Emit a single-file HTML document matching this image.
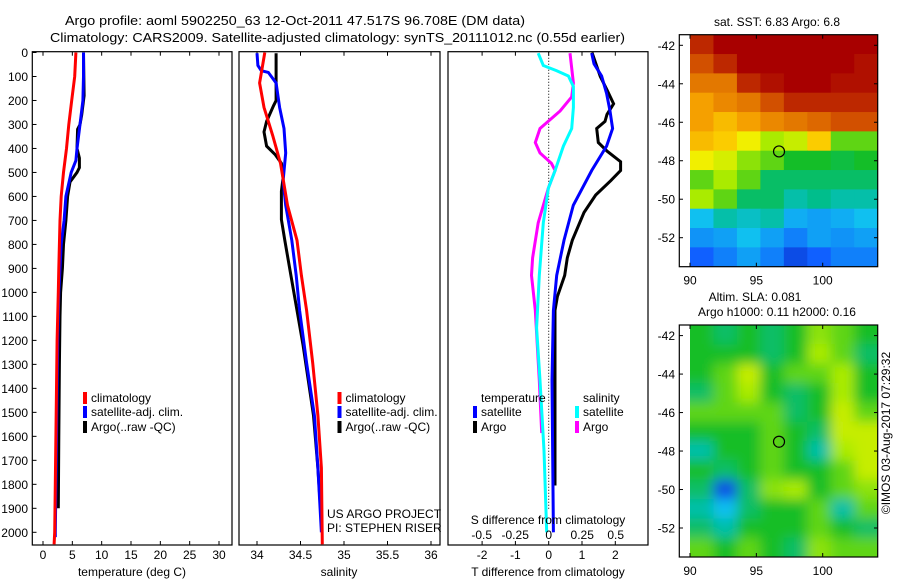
<!DOCTYPE html>
<html><head><meta charset="utf-8"><style>
html,body{margin:0;padding:0;background:#fff}
svg{display:block;font-family:"Liberation Sans",sans-serif}
</style></head><body>
<svg id="fig" width="900" height="580" viewBox="0 0 900 580" xmlns="http://www.w3.org/2000/svg">
<defs>
<clipPath id="clipTop"><rect x="690" y="34.7" width="187.7" height="232"/></clipPath>
<clipPath id="clipBot"><rect x="690" y="325" width="187.7" height="232"/></clipPath>
<filter id="blur" x="-10%" y="-10%" width="120%" height="120%"><feGaussianBlur stdDeviation="6"/></filter>
</defs>
<text x="65" y="25" font-size="13" textLength="460" lengthAdjust="spacingAndGlyphs">Argo profile: aoml 5902250_63 12-Oct-2011 47.517S 96.708E (DM data)</text>
<text x="50" y="42" font-size="13" textLength="575" lengthAdjust="spacingAndGlyphs">Climatology: CARS2009. Satellite-adjusted climatology: synTS_20111012.nc (0.55d earlier)</text>
<g id="plots"></g>
</svg>
<script>
// ---------- depth profile data ----------
const tClimDepth=[0,100,200,300,400,500,600,700,800,900,1000,1200,1400,1600,1800,2000,2050];
const tClimVal=[5.6,5.4,4.9,4.4,4.0,3.5,3.1,2.9,2.8,2.7,2.6,2.4,2.3,2.2,2.1,2.0,1.9];
const tSatDepth=[0,100,200,300,400,450,500,600,700,800,900,1000,1200,1400,1600,1800,2000,2020];
const tSatVal=[6.9,6.9,6.8,6.3,5.8,5.6,4.8,3.9,3.6,3.1,2.9,2.7,2.5,2.4,2.3,2.2,2.1,2.1];
const tArgoDepth=[0,180,260,300,320,400,440,480,500,540,600,700,800,900,1000,1100,1300,1600,1900];
const tArgoVal=[6.9,7.0,6.6,6.3,5.9,5.8,6.2,6.2,5.8,4.6,4.2,3.9,3.5,3.3,3.0,2.9,2.8,2.7,2.6];

const sClimDepth=[0,127,229,346,462,637,783,929,1075,1294,1513,1731,2050];
const sClimVal=[34.09,34.03,34.08,34.18,34.27,34.35,34.46,34.51,34.57,34.64,34.70,34.74,34.75];
const sSatDepth=[3,54,76,83,127,229,317,419,535,637,783,929,1075,1294,1513,1732,2000];
const sSatVal=[34.0,34.01,34.05,34.13,34.22,34.26,34.31,34.33,34.30,34.33,34.40,34.45,34.49,34.57,34.66,34.70,34.74];
const sArgoDepth=[3,200,222,287,331,390,426,462,521,579,696,783,929,1075,1221,1367,1513,1732,1900];
const sArgoVal=[34.22,34.22,34.19,34.11,34.08,34.11,34.21,34.28,34.30,34.28,34.28,34.32,34.39,34.46,34.53,34.59,34.65,34.70,34.73];

const dTSatDepth=[3,47,98,171,244,317,390,492,637,783,929,1075,1367,2000];
const dTSatVal=[1.29,1.36,1.59,1.74,1.84,1.92,1.74,1.29,0.74,0.46,0.24,0.14,0.10,0.14];
const dTArgoDepth=[0,100,156,214,258,287,317,375,411,455,492,535,594,667,783,856,929,1017,1075,1805];
const dTArgoVal=[1.3,1.55,1.75,1.95,1.75,1.69,1.44,1.49,1.75,2.16,2.16,1.86,1.41,1.06,0.71,0.56,0.48,0.26,0.19,0.19];
const dSSatDepth=[3,54,76,98,142,229,317,390,492,565,710,929,1148,1367,1659,2000];
const dSSatVal=[-0.078,-0.04,0.06,0.147,0.184,0.184,0.172,0.11,0.048,-0.002,-0.04,-0.07,-0.09,-0.065,-0.035,-0.015];
const dSArgoDepth=[3,127,185,244,317,375,419,462,492,565,710,856,929,1075,1367,1586];
const dSArgoVal=[0.159,0.184,0.172,0.085,-0.065,-0.10,-0.065,0.02,0.048,-0.002,-0.078,-0.12,-0.128,-0.10,-0.07,-0.052];

const depthTicks=[0,100,200,300,400,500,600,700,800,900,1000,1100,1200,1300,1400,1500,1600,1700,1800,1900,2000];
const tempTicks=[0,5,10,15,20,25,30];
const salTicks=[34,34.5,35,35.5,36];
const dTTicks=[-2,-1,0,1,2];
const dSTicks=[-0.5,-0.25,0,0.25,0.5];
const dSTickLabels=["-0.5","-0.25","0","0.25","0.5"];

// ---------- map data (coarse grids, rows north->south, cols west->east) ----------
const sstGrid=[
[0.9,0.95,0.95,0.95,0.95,0.95,0.95,0.95],
[0.85,0.9,0.95,0.95,0.95,0.95,0.95,0.93],
[0.8,0.8,0.9,0.93,0.95,0.95,0.93,0.93],
[0.75,0.78,0.8,0.85,0.9,0.9,0.9,0.9],
[0.75,0.72,0.75,0.78,0.8,0.82,0.85,0.85],
[0.72,0.7,0.65,0.6,0.62,0.7,0.55,0.55],
[0.65,0.63,0.58,0.55,0.5,0.5,0.48,0.5],
[0.55,0.6,0.55,0.45,0.45,0.45,0.45,0.45],
[0.6,0.55,0.45,0.45,0.4,0.42,0.4,0.4],
[0.35,0.4,0.38,0.4,0.32,0.3,0.32,0.35],
[0.28,0.3,0.35,0.3,0.25,0.3,0.28,0.3],
[0.2,0.25,0.3,0.25,0.15,0.2,0.25,0.25]];
const slaGrid=[
[0.5,0.45,0.5,0.45,0.5,0.58,0.55,0.5],
[0.5,0.5,0.5,0.45,0.5,0.6,0.55,0.45],
[0.5,0.55,0.62,0.5,0.55,0.55,0.6,0.5],
[0.45,0.55,0.6,0.5,0.45,0.5,0.6,0.5],
[0.55,0.55,0.55,0.55,0.45,0.5,0.62,0.55],
[0.5,0.5,0.5,0.55,0.5,0.45,0.62,0.62],
[0.4,0.5,0.5,0.55,0.5,0.4,0.6,0.62],
[0.5,0.45,0.5,0.55,0.5,0.5,0.55,0.62],
[0.45,0.15,0.45,0.58,0.6,0.5,0.55,0.58],
[0.4,0.35,0.45,0.5,0.5,0.55,0.4,0.55],
[0.45,0.4,0.5,0.5,0.5,0.55,0.5,0.45],
[0.55,0.5,0.55,0.5,0.45,0.58,0.55,0.55]];
const lonTicks=[90,95,100];
const latTicks=[-42,-44,-46,-48,-50,-52];
const floatLon=96.708, floatLat=-47.517;

const NS='http://www.w3.org/2000/svg';
const root=document.getElementById('plots');
function mk(tag,attrs,parent){const e=document.createElementNS(NS,tag);for(const k in attrs)e.setAttribute(k,attrs[k]);(parent||root).appendChild(e);return e;}
function txt(s,x,y,size,anchor,parent){const t=mk('text',{x:x,y:y,'font-size':size,'text-anchor':anchor||'start'},parent);t.textContent=s;return t;}

const yD=d=>52.5+d*0.2399;
const xT=v=>43+v*5.867;
const xS=v=>257+(v-34)*87;
const xdT=v=>548.7+v*33.3;
const xdS=v=>548.7+v*134;
const AX_TOP=51.7, AX_BOT=545;

function line(depths,vals,xf,color,name){
  const pts=depths.map((d,i)=>xf(vals[i]).toFixed(1)+','+yD(d).toFixed(1)).join(' ');
  const p=mk('polyline',{points:pts,fill:'none',stroke:color,'stroke-width':3,'stroke-linejoin':'miter'});
  
  
}
function frame(x0,x1,name){
  const r=mk('rect',{x:x0,y:AX_TOP,width:x1-x0,height:AX_BOT-AX_TOP,fill:'none',stroke:'#000','stroke-width':1.2});
  
  
}
function xticks(vals,labels,xf,y,name){
  vals.forEach((v,i)=>{
    const x=xf(v);
    mk('line',{x1:x,x2:x,y1:AX_BOT,y2:AX_BOT-4,stroke:'#000'});
    mk('line',{x1:x,x2:x,y1:AX_TOP,y2:AX_TOP+4,stroke:'#000'});
    const t=txt(labels[i],x,y,12,'middle');
    
    
  });
}
function legendEntry(x,y,color,label,name){
  const g=mk('g',{});
  
  
  mk('rect',{x:x,y:y-10,width:4,height:12,fill:color},g);
  txt(label,x+8,y,12,'start',g);
}

// ---------- panel 1 temperature ----------
frame(32.3,232,'temperature-plot-frame');
depthTicks.forEach(d=>{
  const y=yD(d);
  mk('line',{x1:32.3,x2:36.5,y1:y,y2:y,stroke:'#000'});
  const t=txt(String(d),28,y+4.5,12,'end');
  
  
});
xticks(tempTicks,tempTicks.map(String),xT,559,'temperature-tick-label');
line(tArgoDepth,tArgoVal,xT,'#000','temperature-argo-line');
line(tSatDepth,tSatVal,xT,'#0000ff','temperature-satellite-line');
line(tClimDepth,tClimVal,xT,'#ff0000','temperature-climatology-line');
{const t=txt('temperature (deg C)',132,576,12,'middle');}
legendEntry(83,402,'#ff0000','climatology','legend-climatology');
legendEntry(83,416,'#0000ff','satellite-adj. clim.','legend-satellite-adj');
legendEntry(83,431,'#000','Argo(..raw -QC)','legend-argo');

// ---------- panel 2 salinity ----------
frame(239,440,'salinity-plot-frame');
xticks(salTicks,["34","34.5","35","35.5","36"],xS,559,'salinity-tick-label');
line(sArgoDepth,sArgoVal,xS,'#000','salinity-argo-line');
line(sSatDepth,sSatVal,xS,'#0000ff','salinity-satellite-line');
line(sClimDepth,sClimVal,xS,'#ff0000','salinity-climatology-line');
{const t=txt('salinity',339,576,12,'middle');}
legendEntry(337.5,402,'#ff0000','climatology','legend-climatology-2');
legendEntry(337.5,416,'#0000ff','satellite-adj. clim.','legend-satellite-adj-2');
legendEntry(337.5,431,'#000','Argo(..raw -QC)','legend-argo-2');
{const t=txt('US ARGO PROJECT',327,518,12,'start');}
{const t=txt('PI: STEPHEN RISER',327,532,12,'start');}

// ---------- panel 3 differences ----------
frame(448,648,'difference-plot-frame');
mk('line',{x1:xdT(0),x2:xdT(0),y1:AX_TOP,y2:510,stroke:'#000','stroke-width':1,'stroke-dasharray':'1,2'});
xticks(dTTicks,dTTicks.map(String),xdT,559,'t-difference-tick-label');
line(dSArgoDepth,dSArgoVal,xdS,'#ff00ff','salinity-diff-argo-line');
line(dSSatDepth,dSSatVal,xdS,'#00ffff','salinity-diff-satellite-line');
line(dTArgoDepth,dTArgoVal,xdT,'#000','temperature-diff-argo-line');
line(dTSatDepth,dTSatVal,xdT,'#0000ff','temperature-diff-satellite-line');
dSTicks.forEach((v,i)=>{const t=txt(dSTickLabels[i],xdS(v),539,12,'middle');});
{const t=txt('S difference from climatology',548,524,12,'middle');}
{const t=txt('T difference from climatology',548,576,12,'middle');}
{const t=txt('temperature',481,402,12,'start');}
{const t=txt('salinity',583,402,12,'start');}
legendEntry(473,416,'#0000ff','satellite','legend-t-satellite');
legendEntry(473,431,'#000','Argo','legend-t-argo');
legendEntry(575,416,'#00ffff','satellite','legend-s-satellite');
legendEntry(575,431,'#ff00ff','Argo','legend-s-argo');

// ---------- maps ----------
const cmapStops=[[0,[0,16,154]],[0.2,[16,96,255]],[0.35,[16,192,240]],[0.42,[0,190,140]],[0.5,[20,190,40]],[0.6,[170,235,0]],[0.66,[255,240,0]],[0.75,[245,160,0]],[0.85,[210,80,0]],[0.95,[168,0,0]],[1,[150,0,0]]];
function cmap(v){
  for(let i=1;i<cmapStops.length;i++){
    if(v<=cmapStops[i][0]){const a=cmapStops[i-1],b=cmapStops[i];const f=(v-a[0])/(b[0]-a[0]);
      return 'rgb('+a[1].map((c,k)=>Math.round(c+(b[1][k]-c)*f)).join(',')+')';}
  }
  return 'rgb(150,0,0)';
}
const xLon=lon=>690+(lon-90)*13.27;
function drawMap(grid,top,clip,blur,name,title1,title2){
  const yLat=lat=>top+10.6+(-42-lat)*19.24;
  const g=mk('g',{'clip-path':'url(#'+clip+')'});
  
  
  const inner=mk('g',blur?{filter:'url(#blur)'}:{},g);
  const rows=grid.length,cols=grid[0].length,w=187.7/cols,h=232/rows;
  const pad=blur?20:0;
  grid.forEach((row,r)=>row.forEach((v,c)=>{
    const x0=690+c*w-(c===0?pad:0), y0=top+r*h-(r===0?pad:0);
    const ww=w+0.5+(c===0?pad:0)+(c===cols-1?pad:0), hh=h+0.5+(r===0?pad:0)+(r===rows-1?pad:0);
    const cell=mk('rect',{x:x0,y:y0,width:ww,height:hh,fill:cmap(v)},inner);
    
    
  }));
  const fr=mk('rect',{x:679.3,y:top,width:198.4,height:232,fill:'none',stroke:'#000','stroke-width':1.2});
  
  
  latTicks.forEach(l=>{const y=yLat(l);
    mk('line',{x1:679.3,x2:683,y1:y,y2:y,stroke:'#000'});
    mk('line',{x1:877.7,x2:874,y1:y,y2:y,stroke:'#000'});
    const t=txt(String(l),675,y+4.5,12,'end');});
  lonTicks.forEach(l=>{const x=xLon(l);
    mk('line',{x1:x,x2:x,y1:top,y2:top+4,stroke:'#000'});
    mk('line',{x1:x,x2:x,y1:top+232,y2:top+228,stroke:'#000'});
    const t=txt(String(l),x,top+250,12,'middle');});
  const c=mk('ellipse',{cx:xLon(floatLon),cy:yLat(floatLat),rx:5.5,ry:5.5,fill:'none',stroke:'#000','stroke-width':1.2});
  
  
}
drawMap(sstGrid,34.7,'clipTop',false,'sst-map');
drawMap(slaGrid,325,'clipBot',true,'sla-map');
{const t=txt('sat. SST: 6.83 Argo: 6.8',777,26,12,'middle');}
{const t=txt('Altim. SLA: 0.081',755,301,12,'middle');}
{const t=txt('Argo h1000: 0.11 h2000: 0.16',777,316,12,'middle');}
{const t=txt('©IMOS 03-Aug-2017 07:29:32',0,0,12,'middle');t.setAttribute('transform','translate(890,433) rotate(-90)');}
</script>
</body></html>
